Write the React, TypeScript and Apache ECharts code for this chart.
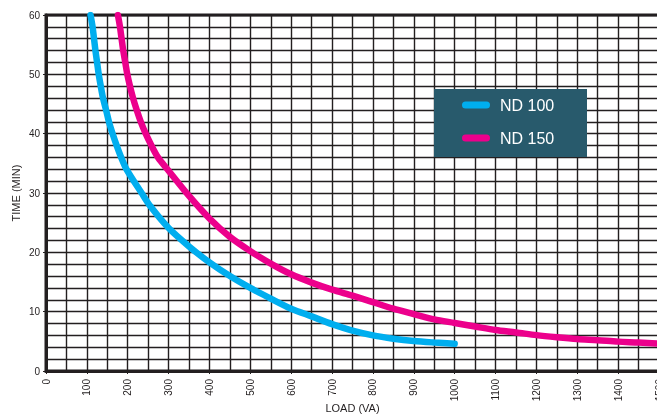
import React, { useEffect, useRef } from "react";
import * as echarts from "echarts";

const seriesNames = ["ND 100", "ND 150"];
const nd100Load = [109, 114, 117.5, 121, 125, 129, 134, 139.5, 147, 154, 163, 173, 184, 197, 234, 255, 300, 350, 400, 450, 500, 550, 600, 650, 700, 750, 800, 850, 900, 950, 1000];
const nd100Time = [60, 58, 56, 54, 52, 50, 48, 46, 44, 42, 40, 38, 36, 34, 30, 27.8, 24.1, 21, 18.3, 16, 14, 12.2, 10.5, 9.2, 7.9, 6.8, 6.0, 5.45, 5.05, 4.8, 4.6];
const nd150Load = [176, 181, 185, 189, 194, 199, 205.5, 213, 222, 232, 244, 258, 274, 297, 350, 400, 450, 500, 550, 600, 650, 700, 750, 800, 850, 900, 950, 1000, 1050, 1100, 1150, 1200, 1250, 1300, 1350, 1400, 1450, 1500];
const nd150Time = [60, 58, 56, 54, 52, 50, 48, 46, 44, 42, 40, 38, 36, 34, 29.5, 25.7, 22.6, 20.2, 18.1, 16.3, 14.9, 13.7, 12.7, 11.6, 10.5, 9.6, 8.7, 8.1, 7.5, 6.9, 6.5, 6.05, 5.7, 5.4, 5.2, 4.95, 4.8, 4.6];
const xMin = 0;
const xMax = 1500;
const yMin = 0;
const yMax = 60;

const FONT = "'Liberation Sans', Arial, Helvetica, sans-serif";
const INK = "#231f20";

export default function App() {
  const ref = useRef<HTMLDivElement>(null);
  useEffect(() => {
    if (!ref.current) return;
    const chart = echarts.init(ref.current, undefined, { renderer: "svg" });
    const pair = (xs: number[], ys: number[]) => xs.map((x, i) => [x, ys[i]]);
    chart.setOption({
      animation: false,
      textStyle: { fontFamily: FONT },
      grid: {
        left: 46,
        top: 15,
        width: 613,
        height: 356,
        show: true,
        borderColor: INK,
        borderWidth: 3,
        backgroundColor: "transparent",
        containLabel: false,
        outerBoundsMode: "none",
      },
      xAxis: {
        type: "value",
        min: xMin,
        max: xMax,
        interval: 100,
        name: "LOAD (VA)",
        nameLocation: "middle",
        nameGap: 31,
        nameMoveOverlap: false,
        nameTextStyle: { fontSize: 11, color: INK, fontFamily: FONT },
        axisLine: { show: true, lineStyle: { color: INK, width: 3 } },
        axisTick: { show: true, length: 3, lineStyle: { color: INK, width: 1 } },
        axisLabel: {
          rotate: 90,
          fontSize: 10,
          color: INK,
          margin: 8,
          fontFamily: FONT,
          showMaxLabel: true,
          hideOverlap: false,
          formatter: (v: number) => String(v),
        },
        splitLine: { show: true, lineStyle: { color: INK, width: 1.4 } },
        minorTick: { show: false, splitNumber: 2 },
        minorSplitLine: { show: true, lineStyle: { color: INK, width: 1.4 } },
      },
      yAxis: {
        type: "value",
        min: yMin,
        max: yMax,
        interval: 10,
        name: "TIME (MIN)",
        nameLocation: "middle",
        nameGap: 25,
        nameMoveOverlap: false,
        nameTextStyle: { fontSize: 11, color: INK, fontFamily: FONT },
        axisLine: { show: true, lineStyle: { color: INK, width: 3 } },
        axisTick: { show: true, length: 3, lineStyle: { color: INK, width: 1 } },
        axisLabel: { fontSize: 10, color: INK, margin: 6, fontFamily: FONT },
        splitLine: { show: true, lineStyle: { color: INK, width: 1.4 } },
        minorTick: { show: false, splitNumber: 5 },
        minorSplitLine: { show: true, lineStyle: { color: INK, width: 1.4 } },
      },
      graphic: [
        {
          type: "rect",
          shape: { x: 434, y: 89, width: 153, height: 68 },
          style: { fill: "#285a6c" },
          z: 50,
        },
      ],
      legend: {
        orient: "vertical",
        left: 462,
        top: 95,
        padding: 0,
        itemWidth: 28,
        itemHeight: 7,
        itemGap: 13,
        z: 60,
        icon: "path://M3.5,0 h21 a3.5,3.5 0 0 1 0,7 h-21 a3.5,3.5 0 0 1 0,-7 z",
        textStyle: { color: "#ffffff", fontSize: 16, lineHeight: 20, fontFamily: FONT, padding: [0, 0, 0, 5] },
        data: seriesNames,
      },
      series: [
        {
          name: seriesNames[0],
          type: "line",
          data: pair(nd100Load, nd100Time),
          smooth: 0.3,
          showSymbol: false,
          symbol: "none",
          lineStyle: { color: "#00aeef", width: 6.5, cap: "round" },
          itemStyle: { color: "#00aeef" },
          z: 10,
        },
        {
          name: seriesNames[1],
          type: "line",
          data: pair(nd150Load, nd150Time),
          smooth: 0.3,
          showSymbol: false,
          symbol: "none",
          lineStyle: { color: "#ec008c", width: 6.5, cap: "round" },
          itemStyle: { color: "#ec008c" },
          z: 10,
        },
      ],
    });
    return () => chart.dispose();
  }, []);
  return <div ref={ref} style={{ position: "fixed", left: 0, top: 0, width: 657, height: 416 }} />;
}
